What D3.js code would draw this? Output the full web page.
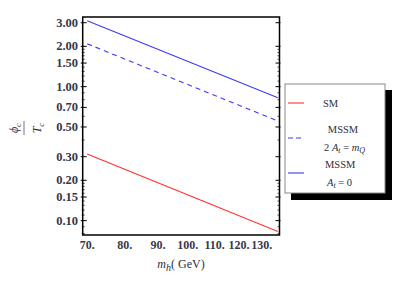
<!DOCTYPE html>
<html><head><meta charset="utf-8">
<script src="https://cdn.jsdelivr.net/npm/d3@7"></script>
<style>body{margin:0;background:#fff}svg{display:block}</style>
</head><body><svg id="c" width="400" height="285"></svg>
<script>
// data (x: m_h in GeV, y: phi_c/T_c)
const seriesNames = ["SM", "MSSM 2At=mQ", "MSSM At=0"];
const mh = [70, 137.7];
const smVals = [0.314, 0.0828];
const mssmMixVals = [2.09, 0.554];
const mssmZeroVals = [3.10, 0.826];
const xTicks = [70, 80, 90, 100, 110, 120, 130];
const xTickLabels = ["70.", "80.", "90.", "100.", "110.", "120.", "130."];
const yTicks = [0.1, 0.15, 0.2, 0.3, 0.5, 0.7, 1, 1.5, 2, 3];
const yTickLabels = ["0.10", "0.15", "0.20", "0.30", "0.50", "0.70", "1.00", "1.50", "2.00", "3.00"];
const yMinor = [0.08, 0.09, 0.11, 0.12, 0.13, 0.14, 0.16, 0.17, 0.18, 0.19, 0.4, 0.6, 0.8, 0.9, 1.1, 1.2, 1.3, 1.4, 1.6, 1.7, 1.8, 1.9];

const svg = d3.select("#c");
const L = 82.7, R = 279.5, T = 17, B = 235;
const x = d3.scaleLog().domain([68.9, 138.5]).range([L, R]);
const y = d3.scaleLog().domain([0.0781, 3.31]).range([B, T]);
const txt = "#2e2e3e";
const font = "Liberation Serif, Times New Roman, serif";

const g = svg.append("g");
yTicks.forEach(v => {
  g.append("line").attr("x1", L - 2).attr("x2", L + 4).attr("y1", y(v)).attr("y2", y(v)).attr("stroke", "#000").attr("stroke-width", 1);
  g.append("line").attr("x1", R - 4).attr("x2", R + 1).attr("y1", y(v)).attr("y2", y(v)).attr("stroke", "#000").attr("stroke-width", 1);
});
yMinor.forEach(v => {
  g.append("line").attr("x1", L - 1).attr("x2", L + 2).attr("y1", y(v)).attr("y2", y(v)).attr("stroke", "#000").attr("stroke-width", 0.7);
  g.append("line").attr("x1", R - 2).attr("x2", R + 0.5).attr("y1", y(v)).attr("y2", y(v)).attr("stroke", "#000").attr("stroke-width", 0.7);
});
yTicks.forEach((v, i) => {
  g.append("text").attr("x", 78).attr("y", y(v) + 4).attr("text-anchor", "end")
    .attr("font-family", font).attr("font-size", 12.5).attr("font-weight", "bold").attr("fill", "#38384a").text(yTickLabels[i]);
});
xTicks.forEach((v, i) => {
  g.append("text").attr("x", x(v)).attr("y", 249).attr("text-anchor", "middle")
    .attr("font-family", font).attr("font-size", 12).attr("font-weight", "bold").attr("fill", "#38384a").text(xTickLabels[i]);
});

const line = d3.line().x(d => x(d[0])).y(d => y(d[1]));
const mk = vals => mh.map((m, i) => [m, vals[i]]);
svg.append("path").attr("d", line(mk(smVals))).attr("fill", "none").attr("stroke", "#ff3030").attr("stroke-width", 1.1);
svg.append("path").attr("d", line(mk(mssmMixVals))).attr("fill", "none").attr("stroke", "#3a3aff").attr("stroke-width", 1.1).attr("stroke-dasharray", "5,4");
svg.append("path").attr("d", line(mk(mssmZeroVals))).attr("fill", "none").attr("stroke", "#3a3aff").attr("stroke-width", 1.1);

svg.append("rect").attr("x", L).attr("y", T).attr("width", R - L).attr("height", B - T)
  .attr("fill", "none").attr("stroke", "#000").attr("stroke-width", 1.5);

const xl = svg.append("text").attr("x", 181).attr("y", 268).attr("text-anchor", "middle")
  .attr("font-family", font).attr("font-size", 12).attr("fill", txt);
xl.append("tspan").attr("font-style", "italic").text("m");
xl.append("tspan").attr("font-style", "italic").attr("font-size", 10).attr("dy", 3).text("h");
xl.append("tspan").attr("dy", -3).text("( GeV)");

const yl = svg.append("g").attr("transform", "translate(24,128) rotate(-90)");
yl.append("line").attr("x1", -7).attr("x2", 7).attr("y1", 0).attr("y2", 0).attr("stroke", "#777").attr("stroke-width", 1);
const num = yl.append("text").attr("x", 0).attr("y", -6).attr("text-anchor", "middle")
  .attr("font-family", font).attr("font-size", 12).attr("font-style", "italic").attr("fill", txt);
num.append("tspan").text("ϕ");
num.append("tspan").attr("font-size", 9).attr("dy", 3).text("c");
const den = yl.append("text").attr("x", 0).attr("y", 17).attr("text-anchor", "middle")
  .attr("font-family", font).attr("font-size", 12).attr("font-style", "italic").attr("fill", txt);
den.append("tspan").text("T");
den.append("tspan").attr("font-size", 9).attr("dy", 3).text("c");

const lg = svg.append("g");
lg.append("rect").attr("x", 291).attr("y", 90).attr("width", 101).attr("height", 110).attr("fill", "#000");
lg.append("rect").attr("x", 285).attr("y", 84).attr("width", 100).attr("height", 109).attr("fill", "#fff").attr("stroke", "#888").attr("stroke-width", 1);
const items = [
  {y: 103, color: "#ff3030", dash: null},
  {y: 138, color: "#3a3aff", dash: "5,3"},
  {y: 173, color: "#3a3aff", dash: null}
];
items.forEach(it => {
  lg.append("line").attr("x1", 288).attr("x2", 304).attr("y1", it.y).attr("y2", it.y)
    .attr("stroke", it.color).attr("stroke-width", 1.1).attr("stroke-dasharray", it.dash);
});
const lt = (xx, yy, anchor) => lg.append("text").attr("x", xx).attr("y", yy).attr("text-anchor", anchor)
  .attr("font-family", font).attr("font-size", 10.5).attr("fill", txt);
lt(323, 107, "start").text(seriesNames[0]);
lt(343, 133, "middle").text("MSSM");
const t2 = lt(324, 151, "start");
t2.append("tspan").text("2 ");
t2.append("tspan").attr("font-style", "italic").text("A");
t2.append("tspan").attr("font-style", "italic").attr("font-size", 8).attr("dy", 2).text("t");
t2.append("tspan").attr("dy", -2).text(" = ");
t2.append("tspan").attr("font-style", "italic").text("m");
t2.append("tspan").attr("font-style", "italic").attr("font-size", 8).attr("dy", 2).text("Q");
lt(325, 168, "start").text("MSSM");
const t3 = lt(327, 186, "start");
t3.append("tspan").attr("font-style", "italic").text("A");
t3.append("tspan").attr("font-style", "italic").attr("font-size", 8).attr("dy", 2).text("t");
t3.append("tspan").attr("dy", -2).text(" = 0");
</script></body></html>
